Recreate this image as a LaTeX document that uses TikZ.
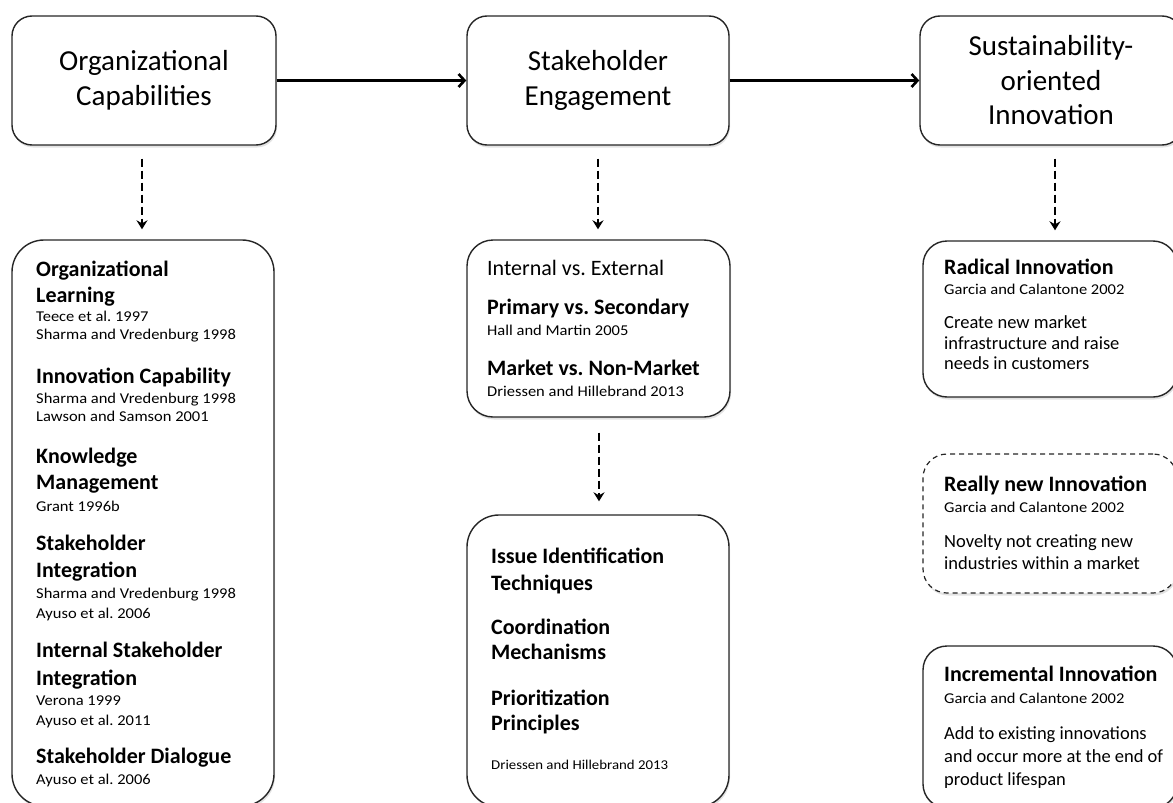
\documentclass[tikz,border=0pt]{standalone}
\usepackage{fontspec}
\setmainfont{Carlito}
\newfontfamily\reffont[FakeStretch=1.1]{Carlito}
\usetikzlibrary{arrows.meta,shadows}
\tikzset{
  box/.style={draw=black!85, line width=1.4pt, fill=white, rectangle,
    drop shadow={opacity=0.22, shadow xshift=1pt, shadow yshift=-2.5pt}},
  title/.style={font=\fontsize{29}{34.5}\selectfont, align=center},
  head/.style={anchor=base west, inner sep=0pt, font=\fontsize{22}{26}\selectfont\bfseries},
  plain/.style={anchor=base west, inner sep=0pt, font=\fontsize{22}{26}\selectfont},
  ref/.style={anchor=base west, inner sep=0pt, font=\reffont\fontsize{15}{18}\selectfont},
  refsmall/.style={anchor=base west, inner sep=0pt, font=\reffont\fontsize{13.5}{16}\selectfont},
  desc/.style={anchor=base west, inner sep=0pt, font=\fontsize{18.5}{21}\selectfont},
  solidarrow/.style={line width=3pt, -{Straight Barb[length=6pt,width=13pt,line width=2.6pt]}},
  dasharrow/.style={line width=2.8pt, dash pattern=on 8pt off 4pt,
    -{Stealth[length=9pt,width=11pt,inset=3pt]}},
}
\begin{document}
\frenchspacing
\begin{tikzpicture}[x=1pt,y=-1pt]
\useasboundingbox (0,0) rectangle (1173,803);
\clip (0,0) rectangle (1173,803);
% top row
\node[box, title, rounded corners=20pt, minimum width=264pt, minimum height=129pt] (tb1) at (144,80.5) {Organizational\\Capabilities};
\node[box, title, rounded corners=20pt, minimum width=262pt, minimum height=129pt] (tb2) at (598,80.5) {Stakeholder\\Engagement};
\node[box, title, rounded corners=20pt, minimum width=262pt, minimum height=129pt] (tb3) at (1051,80.5) {Sustainability-\\oriented\\Innovation};
% lower boxes
\node[box, rounded corners=32pt, minimum width=262pt, minimum height=566pt] (lb) at (143,523) {};
\node[box, rounded corners=26pt, minimum width=263pt, minimum height=177pt] (mt) at (598.5,328.5) {};
\node[box, rounded corners=32pt, minimum width=262pt, minimum height=292pt] (mb) at (598,661) {};
\node[box, rounded corners=24pt, minimum width=254pt, minimum height=156pt] (r1) at (1050,319) {};
\node[box, dashed, dash pattern=on 5pt off 4pt, line width=1.2pt, rounded corners=24pt, minimum width=254pt, minimum height=139pt] (r2) at (1050,523.5) {};
\node[box, rounded corners=24pt, minimum width=254pt, minimum height=162pt] (r3) at (1050,727) {};
% connectors
\draw[solidarrow] (tb1.east) -- (tb2.west);
\draw[solidarrow] (tb2.east) -- (tb3.west);
\draw[dasharrow, shorten <=13pt, shorten >=10pt] (tb1.south -| 142,0) -- (lb.north -| 142,0);
\draw[dasharrow, shorten <=13pt, shorten >=10pt] (tb2.south) -- (mt.north -| tb2.south);
\draw[dasharrow, shorten <=15pt, shorten >=13pt] (mt.south -| 599,0) -- (mb.north -| 599,0);
\draw[dasharrow, shorten <=13pt, shorten >=10pt] (tb3.south -| 1055,0) -- (r1.north -| 1055,0);
% left box text
\node[head] (l1) at (36,276) {Organizational};
\node[head] (l2) at (36,302) {Learning};
\node[ref] (l3) at (36,321) {Teece et al. 1997};
\node[ref] (l4) at (36,339) {Sharma and Vredenburg 1998};
\node[head] (l5) at (36,383) {Innovation Capability};
\node[ref] (l6) at (36,403) {Sharma and Vredenburg 1998};
\node[ref] (l7) at (36,421) {Lawson and Samson 2001};
\node[head] (l8) at (36,463) {Knowledge};
\node[head] (l9) at (36,489) {Management};
\node[ref] (l10) at (36,511) {Grant 1996b};
\node[head] (l11) at (36,550) {Stakeholder};
\node[head] (l12) at (36,577) {Integration};
\node[ref] (l13) at (36,598) {Sharma and Vredenburg 1998};
\node[ref] (l14) at (36,618) {Ayuso et al. 2006};
\node[head] (l15) at (36,657) {Internal Stakeholder};
\node[head] (l16) at (36,685) {Integration};
\node[ref] (l17) at (36,705) {Verona 1999};
\node[ref] (l18) at (36,725) {Ayuso et al. 2011};
\node[head] (l19) at (36,763) {Stakeholder Dialogue};
\node[ref] (l20) at (36,784) {Ayuso et al. 2006};
% middle top text
\node[plain] (m1) at (487,275) {Internal vs. External};
\node[head] (m2) at (487,314) {Primary vs. Secondary};
\node[ref] (m3) at (487,335) {Hall and Martin 2005};
\node[head] (m4) at (487,375) {Market vs. Non-Market};
\node[ref] (m5) at (487,396) {Driessen and Hillebrand 2013};
% middle bottom text
\node[head] (n1) at (491,563) {Issue Identification};
\node[head] (n2) at (491,590) {Techniques};
\node[head] (n3) at (491,634) {Coordination};
\node[head] (n4) at (491,659) {Mechanisms};
\node[head] (n5) at (491,705) {Prioritization};
\node[head] (n6) at (491,730) {Principles};
\node[refsmall] (n7) at (491,769) {Driessen and Hillebrand 2013};
% right text
\node[head] (r1a) at (944,274) {Radical Innovation};
\node[ref] (r1b) at (944,294) {Garcia and Calantone 2002};
\node[desc] (r1c) at (944,328) {Create new market};
\node[desc] (r1d) at (944,349) {infrastructure and raise};
\node[desc] (r1e) at (944,369) {needs in customers};
\node[head] (r2a) at (944,491) {Really new Innovation};
\node[ref] (r2b) at (944,512) {Garcia and Calantone 2002};
\node[desc] (r2c) at (944,547) {Novelty not creating new};
\node[desc] (r2d) at (944,569) {industries within a market};
\node[head] (r3a) at (944,681) {Incremental Innovation};
\node[ref] (r3b) at (944,703) {Garcia and Calantone 2002};
\node[desc] (r3c) at (944,739) {Add to existing innovations};
\node[desc] (r3d) at (944,762) {and occur more at the end of};
\node[desc] (r3e) at (944,785) {product lifespan};
\end{tikzpicture}
\end{document}
